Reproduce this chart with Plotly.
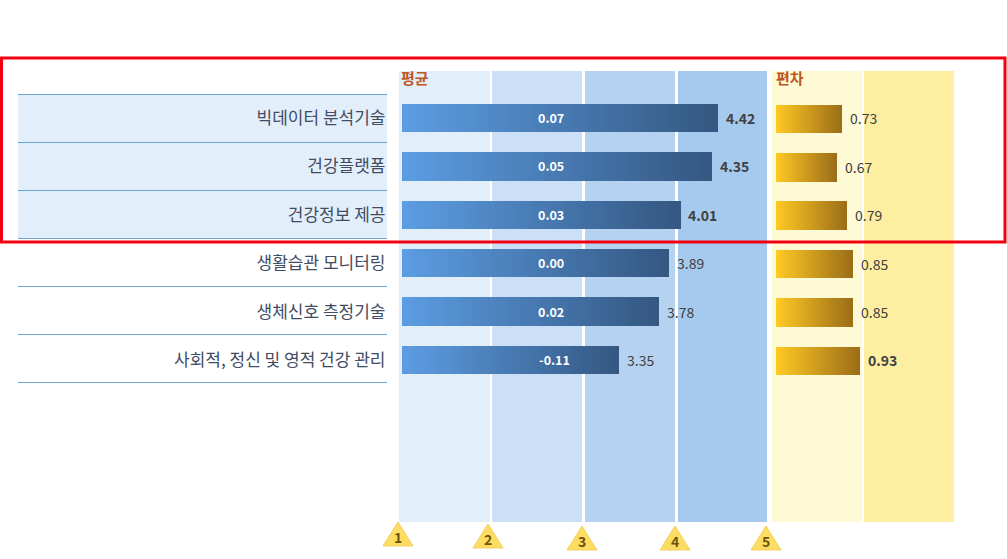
import plotly.graph_objects as go

categories = ["빅데이터 분석기술", "건강플랫폼", "건강정보 제공", "생활습관 모니터링", "생체신호 측정기술", "사회적, 정신 및 영적 건강 관리"]
mean_values = [4.42, 4.35, 4.01, 3.89, 3.78, 3.35]
gap_values = ["0.07", "0.05", "0.03", "0.00", "0.02", "-0.11"]
deviation_values = [0.73, 0.67, 0.79, 0.85, 0.85, 0.93]
scale_ticks = [1, 2, 3, 4, 5]
bold_means = [True, True, True, False, False, False]
bold_devs = [False, False, False, False, False, True]

W, H = 1007, 559
KR = "Noto Sans CJK KR, Noto Sans, sans-serif"
TXT = "#404040"
N = 48

# pixel calibration
X0, XK = 402.0, 92.5
DK = 90.4
DX0 = 776.0
Y0, YK = 118.0, 48.4
def vx(px): return 1 + (px - X0) / XK
def dx(px): return (px - DX0) / DK
def ry(px): return (px - Y0) / YK

def lerp(a, b, t):
    return "rgb(%d,%d,%d)" % tuple(round(a[i] + (b[i] - a[i]) * t) for i in range(3))

def gradient_trace(vals, start, c0, c1, xaxis, offset):
    ys, xs, bases, cols = [], [], [], []
    for cat, v in zip(categories, vals):
        step = (v - start) / N
        for k in range(N):
            ys.append(cat)
            xs.append(step * 1.02)
            bases.append(start + step * k)
            cols.append(lerp(c0, c1, k / (N - 1)))
    return go.Bar(y=ys, x=xs, base=bases, orientation="h", xaxis=xaxis, yaxis="y",
                  width=0.59, offset=offset,
                  marker=dict(color=cols, line=dict(width=0)), showlegend=False, hoverinfo="skip")

fig = go.Figure()
fig.add_trace(gradient_trace(mean_values, 1, (92, 156, 226), (52, 88, 130), "x", -0.295))
fig.add_trace(gradient_trace(deviation_values, 0, (255, 201, 36), (156, 110, 24), "x2", -0.275))

shapes = []
# row highlight and separators
shapes.append(dict(type="rect", xref="paper", yref="paper", x0=18 / W, x1=387 / W,
                   y0=1 - 239 / H, y1=1 - 95 / H, fillcolor="#E3EEFB", line_width=0, layer="below"))
for i in range(len(categories) + 1):
    yy = 1 - (94.5 + 48 * i) / H
    shapes.append(dict(type="line", xref="paper", yref="paper", x0=18 / W, x1=387 / W,
                       y0=yy, y1=yy, line=dict(color="#6FA5D2", width=1), layer="below"))
# scale bands
for a, b, c in [(399, 490, "#E3EEFB"), (492, 582, "#CBE0F7"), (585, 675, "#B6D2F1"), (678, 767, "#A6CAEE")]:
    shapes.append(dict(type="rect", xref="x", yref="y", x0=vx(a), x1=vx(b), y0=ry(71), y1=ry(522),
                       fillcolor=c, line_width=0, layer="below"))
for a, b, c in [(772, 862, "#FEFAD6"), (864, 954, "#FDEEA2")]:
    shapes.append(dict(type="rect", xref="x2", yref="y", x0=dx(a), x1=dx(b), y0=ry(71), y1=ry(522),
                       fillcolor=c, line_width=0, layer="below"))
# tick triangles
tick_px = [398, 488, 582, 675, 766]
tick_py = [535, 537, 539, 539, 539]
for px, py in zip(tick_px, tick_py):
    shapes.append(dict(type="path", xref="x", yref="y", xsizemode="pixel", ysizemode="pixel",
                       xanchor=vx(px), yanchor=ry(py), path="M -15 -11 L 15 -11 L 0 13 Z",
                       fillcolor="#FCDD62", line=dict(color="#F4CF60", width=1)))
# red frame
shapes.append(dict(type="rect", xref="paper", yref="paper", x0=1.5 / W, x1=1005 / W,
                   y0=1 - 242 / H, y1=1 - 58 / H, line=dict(color="#F00010", width=3), fillcolor="rgba(0,0,0,0)"))

ann = []
for i, (v, g, b) in enumerate(zip(mean_values, gap_values, bold_means)):
    ann.append(dict(x=v, y=i, xref="x", yref="y", text=f"<b>{v:.2f}</b>" if b else f"{v:.2f}", showarrow=False,
                    xanchor="left", xshift=6, font=dict(family=KR, size=14, color=TXT)))
    ann.append(dict(x=vx(551 if g != "-0.11" else 554), y=i - 0.01, xref="x", yref="y", text=f"<b>{g}</b>", showarrow=False,
                    font=dict(family=KR, size=12.5, color="white")))
for i, (v, b) in enumerate(zip(deviation_values, bold_devs)):
    ann.append(dict(x=v, xref="x2", y=i + 0.01, yref="y", text=f"<b>{v:.2f}</b>" if b else f"{v:.2f}", showarrow=False,
                    xanchor="left", xshift=6, font=dict(family=KR, size=14, color=TXT)))
ann.append(dict(x=vx(401), y=ry(77), xref="x", yref="y", text="<b>평균</b>", showarrow=False, xanchor="left",
                xshift=-2, font=dict(family=KR, size=15, color="#C0561F")))
ann.append(dict(x=dx(776), y=ry(77), xref="x2", yref="y", text="<b>편차</b>", showarrow=False, xanchor="left",
                xshift=-2, font=dict(family=KR, size=15, color="#C0561F")))
for t, px, py in zip(scale_ticks, tick_px, tick_py):
    ann.append(dict(x=vx(px), y=ry(py + 2), xref="x", yref="y", text=f"<b>{t}</b>", showarrow=False,
                    font=dict(family=KR, size=14, color="#6E5210")))

fig.update_layout(
    width=W, height=H, margin=dict(l=0, r=0, t=0, b=0),
    paper_bgcolor="white", plot_bgcolor="rgba(0,0,0,0)", barmode="overlay", bargap=0,
    showlegend=False, shapes=shapes, annotations=ann,
    xaxis=dict(domain=[0, 1], range=[vx(0), vx(W)], visible=False, fixedrange=True),
    xaxis2=dict(domain=[0, 1], range=[dx(0), dx(W)], visible=False, overlaying="x", fixedrange=True),
    yaxis=dict(type="category", categoryorder="array", categoryarray=categories,
               range=[ry(H), ry(0)], anchor="free", position=385.5 / W, showgrid=False, zeroline=False,
               showline=False, ticks="", tickfont=dict(family=KR, size=17, color="#3F4C63"), fixedrange=True),
)
fig.write_html("out.html", config=dict(displayModeBar=False),
               post_script="document.body.style.margin='0';")
